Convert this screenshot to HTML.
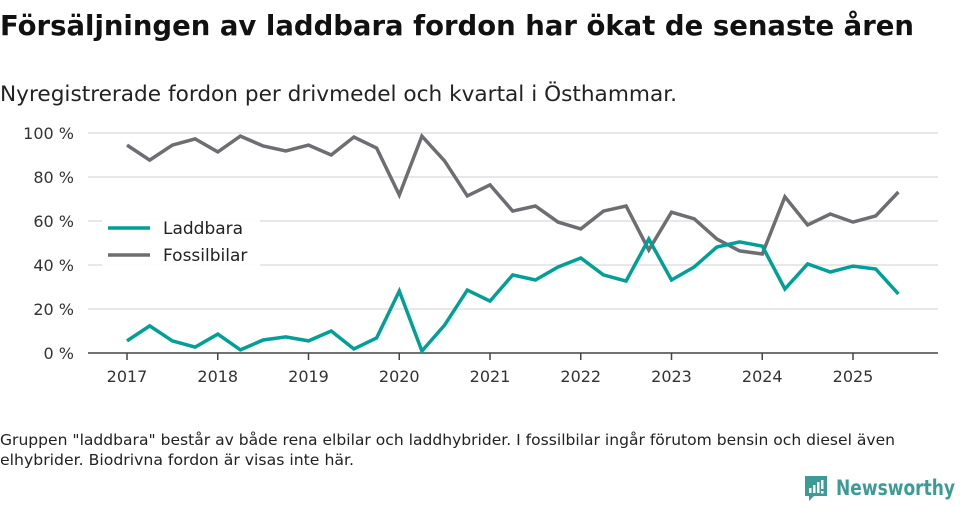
<!DOCTYPE html>
<html><head><meta charset="utf-8">
<style>
html,body{margin:0;padding:0;background:#fff;}
svg{display:block;font-family:"DejaVu Sans","Liberation Sans",sans-serif;}
</style></head>
<body>
<svg id="chart" width="960" height="505" viewBox="0 0 960 505">
<text x="0" y="35" font-size="28" font-weight="bold" fill="#111" textLength="914" lengthAdjust="spacingAndGlyphs">Försäljningen av laddbara fordon har ökat de senaste åren</text>
<text x="0" y="101" font-size="21" fill="#222" textLength="677" lengthAdjust="spacingAndGlyphs">Nyregistrerade fordon per drivmedel och kvartal i Östhammar.</text>
<g id="grid"></g>
<g id="yticks"></g>
<g id="xticks"></g>
<g id="series"></g>
<g>
<rect x="102" y="212" width="158" height="55" fill="#fff" opacity="0.9"/>
<line x1="108" y1="228" x2="150" y2="228" stroke="#00a096" stroke-width="3.5"/>
<text x="163" y="234" font-size="17" fill="#222">Laddbara</text>
<line x1="108" y1="255" x2="150" y2="255" stroke="#6e6d72" stroke-width="3.5"/>
<text x="163" y="261" font-size="17" fill="#222">Fossilbilar</text>
</g>
<text x="0" y="445" font-size="15.5" fill="#222" textLength="895" lengthAdjust="spacingAndGlyphs">Gruppen "laddbara" består av både rena elbilar och laddhybrider. I fossilbilar ingår förutom bensin och diesel även</text>
<text x="0" y="465" font-size="15.5" fill="#222" textLength="354" lengthAdjust="spacingAndGlyphs">elhybrider. Biodrivna fordon är visas inte här.</text>
<g>
<path d="M805 476 h22 v20 h-13 l-5 5 v-5 h-4 z" fill="#3c9c95"/>
<rect x="809" y="488" width="2.5" height="5" fill="#fff"/>
<rect x="813" y="485" width="2.5" height="8" fill="#fff"/>
<rect x="817" y="482" width="2.5" height="11" fill="#fff"/>
<rect x="821" y="480" width="2.5" height="9" fill="#fff"/><rect x="821" y="491" width="2.5" height="2.5" fill="#fff"/>
<text x="836" y="495" font-size="21" font-weight="bold" fill="#3c9c95" textLength="119" lengthAdjust="spacingAndGlyphs">Newsworthy</text>
</g>
</svg>
<script>
const quarters = ["2017Q1","2017Q2","2017Q3","2017Q4","2018Q1","2018Q2","2018Q3","2018Q4","2019Q1","2019Q2","2019Q3","2019Q4","2020Q1","2020Q2","2020Q3","2020Q4","2021Q1","2021Q2","2021Q3","2021Q4","2022Q1","2022Q2","2022Q3","2022Q4","2023Q1","2023Q2","2023Q3","2023Q4","2024Q1","2024Q2","2024Q3","2024Q4","2025Q1","2025Q2","2025Q3"];
const laddbara = [5.5,12.3,5.5,2.7,8.6,1.4,5.9,7.3,5.5,10,1.8,6.8,28.2,0.9,12.7,28.6,23.6,35.5,33.2,39.1,43.2,35.5,32.7,51.8,33.2,39.1,48.2,50.5,48.6,29.1,40.5,36.8,39.5,38.2,26.8];
const fossilbilar = [94.5,87.7,94.5,97.3,91.4,98.6,94.1,91.8,94.5,90,98.2,93.2,71.8,98.6,87.3,71.4,76.4,64.5,66.8,59.5,56.4,64.5,66.8,46.8,64,61,51.8,46.4,45,71,58.2,63.2,59.5,62.3,73.2];
const yTicks = [0,20,40,60,80,100];
const xYears = [2017,2018,2019,2020,2021,2022,2023,2024,2025];

const NS="http://www.w3.org/2000/svg";
function el(tag,attrs,parent){const e=document.createElementNS(NS,tag);for(const k in attrs)e.setAttribute(k,attrs[k]);parent.appendChild(e);return e;}
const yScale = v => 353 - v*2.2;
const xScale = t => 127 + t*90.75;
const xq = i => xScale(i/4);

const grid=document.getElementById('grid'), yt=document.getElementById('yticks'), xt=document.getElementById('xticks'), ser=document.getElementById('series');
yTicks.forEach(v=>{
  if(v>0){const l=el('line',{x1:88,x2:938,y1:yScale(v),y2:yScale(v),stroke:'#e0e0e0','stroke-width':1.5},grid);
  
  }
  const t=el('text',{x:74,y:yScale(v)+6,'font-size':16,fill:'#333','text-anchor':'end'},yt);
  t.textContent=v+' %';
  
  
});
const ax=el('line',{x1:88,x2:938,y1:353,y2:353,stroke:'#444','stroke-width':1.5},xt);


xYears.forEach(y=>{
  const x=xScale(y-2017);
  el('line',{x1:x,x2:x,y1:353,y2:360,stroke:'#444','stroke-width':1.5},xt);
  const t=el('text',{x:x,y:382,'font-size':16,fill:'#333','text-anchor':'middle'},xt);
  t.textContent=y;
  
  
});
function drawLine(data,color,name){
  const d=data.map((v,i)=>(i?'L':'M')+xq(i).toFixed(1)+' '+yScale(v).toFixed(1)).join(' ');
  const p=el('path',{d:d,fill:'none',stroke:color,'stroke-width':3.5,'stroke-linejoin':'miter'},ser);
  
  
}
drawLine(fossilbilar,'#6e6d72','line-fossilbilar');
drawLine(laddbara,'#00a096','line-laddbara');
</script>
</body></html>
